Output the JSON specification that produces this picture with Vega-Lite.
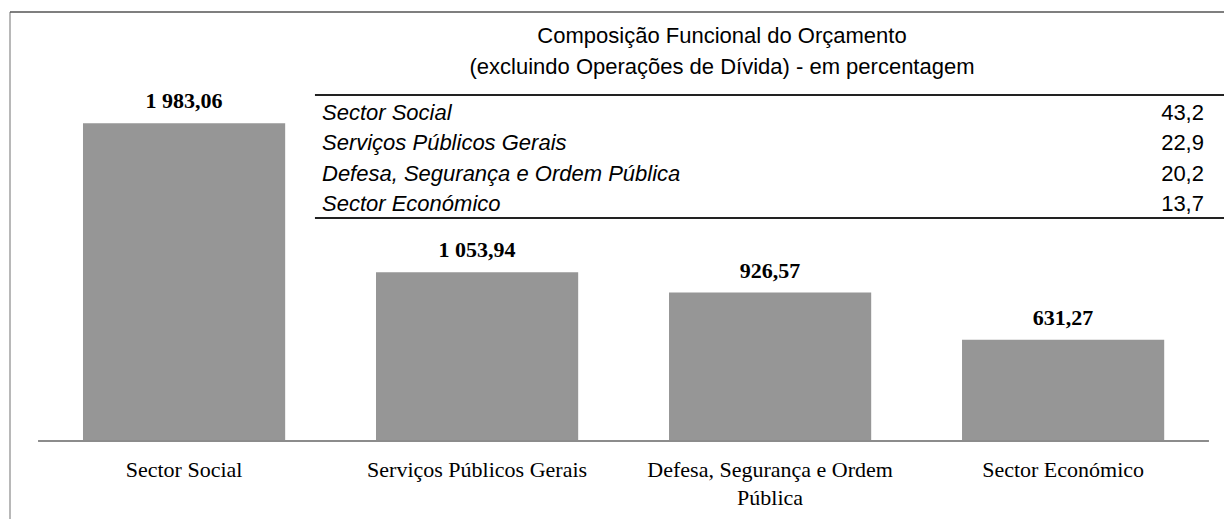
{
  "$schema": "https://vega.github.io/schema/vega-lite/v6.json",
  "width": 1214,
  "height": 507,
  "autosize": {"type": "none"},
  "padding": {"left": 10, "top": 12, "right": 0, "bottom": 0},
  "background": "white",
  "config": {
    "view": {"stroke": null},
    "locale": {"number": {"decimal": ",", "thousands": " ", "grouping": [3], "currency": ["", ""]}}
  },
  "datasets": {
    "budget": [
      {"sector": "Sector Social", "value": 1983.06, "pct": 43.2, "rank": 1},
      {"sector": "Serviços Públicos Gerais", "value": 1053.94, "pct": 22.9, "rank": 2},
      {"sector": "Defesa, Segurança e Ordem Pública", "value": 926.57, "pct": 20.2, "rank": 3},
      {"sector": "Sector Económico", "value": 631.27, "pct": 13.7, "rank": 4}
    ],
    "one": [{}]
  },
  "layer": [
    {
      "data": {"name": "budget"},
      "encoding": {
        "x": {
          "field": "sector",
          "type": "nominal",
          "sort": null,
          "scale": {"type": "band", "paddingInner": 0.31, "paddingOuter": 0.2266, "align": 0.5497, "round": false},
          "axis": {
            "orient": "bottom",
            "offset": -78,
            "title": null,
            "domain": false,
            "ticks": false,
            "grid": false,
            "labelAngle": 0,
            "labelPadding": 18,
            "labelFont": "Liberation Serif",
            "labelFontSize": 22,
            "labelColor": "black",
            "labelLimit": 0,
            "labelLineHeight": 28,
            "labelExpr": "datum.label === 'Defesa, Segurança e Ordem Pública' ? ['Defesa, Segurança e Ordem', 'Pública'] : datum.label"
          }
        },
        "y": {
          "field": "value",
          "type": "quantitative",
          "scale": {"domain": [-486.8, 2677.4], "nice": false, "zero": false},
          "axis": null
        }
      },
      "layer": [
        {"mark": {"type": "bar", "color": "#969696"}, "encoding": {"y2": {"datum": 0}}},
        {
          "mark": {"type": "text", "font": "Liberation Serif", "fontWeight": "bold", "fontSize": 22, "baseline": "alphabetic", "dy": -15, "color": "black"},
          "encoding": {"text": {"field": "value", "type": "quantitative", "format": ",.2f"}}
        }
      ]
    },
    {
      "layer": [
        {
          "data": {"name": "budget"},
          "mark": {"type": "text", "font": "Liberation Sans", "fontStyle": "italic", "fontSize": 22, "align": "left", "baseline": "middle", "color": "black"},
          "encoding": {
            "x": {"datum": 0.257, "type": "quantitative", "scale": {"domain": [0, 1], "nice": false, "zero": false}, "axis": null},
            "y": {"field": "rank", "type": "quantitative", "scale": {"domain": [-2.311, 14.311], "nice": false, "zero": false, "reverse": true}, "axis": null},
            "text": {"field": "sector"}
          }
        },
        {
          "data": {"name": "budget"},
          "mark": {"type": "text", "font": "Liberation Sans", "fontSize": 22, "align": "right", "baseline": "middle", "color": "black"},
          "encoding": {
            "x": {"datum": 0.9835, "type": "quantitative", "axis": null},
            "y": {"field": "rank", "type": "quantitative", "axis": null},
            "text": {"field": "pct", "type": "quantitative", "format": ".1f"}
          }
        },
        {
          "data": {"name": "one"},
          "mark": {"type": "text", "font": "Liberation Sans", "fontSize": 22, "align": "center", "baseline": "middle", "lineHeight": 31, "color": "black", "text": ["Composição Funcional do Orçamento", "(excluindo Operações de Dívida) - em percentagem"]},
          "encoding": {
            "x": {"datum": 0.5865, "type": "quantitative", "axis": null},
            "y": {"datum": -1.525, "type": "quantitative", "axis": null}
          }
        },
        {
          "data": {"name": "one"},
          "mark": {"type": "rule", "color": "#222222", "strokeWidth": 2},
          "encoding": {
            "x": {"datum": 0.2512, "type": "quantitative", "axis": null},
            "x2": {"datum": 1},
            "y": {"datum": 0.41, "type": "quantitative", "axis": null}
          }
        },
        {
          "data": {"name": "one"},
          "mark": {"type": "rule", "color": "#222222", "strokeWidth": 2},
          "encoding": {
            "x": {"datum": 0.2512, "type": "quantitative", "axis": null},
            "x2": {"datum": 1},
            "y": {"datum": 4.44, "type": "quantitative", "axis": null}
          }
        },
        {
          "data": {"name": "one"},
          "mark": {"type": "rule", "color": "#8c8c8c", "strokeWidth": 2},
          "encoding": {
            "x": {"datum": 0.0231, "type": "quantitative", "axis": null},
            "x2": {"datum": 0.9876},
            "y": {"datum": 11.754, "type": "quantitative", "axis": null}
          }
        },
        {
          "data": {"name": "one"},
          "mark": {"type": "rule", "color": "#a0a0a0", "strokeWidth": 1.5},
          "encoding": {
            "x": {"datum": 0, "type": "quantitative", "axis": null}
          }
        },
        {
          "data": {"name": "one"},
          "mark": {"type": "rule", "color": "#555555", "strokeWidth": 1.5},
          "encoding": {
            "y": {"datum": -2.311, "type": "quantitative", "axis": null}
          }
        }
      ]
    }
  ],
  "resolve": {"scale": {"x": "independent", "y": "independent"}}
}
